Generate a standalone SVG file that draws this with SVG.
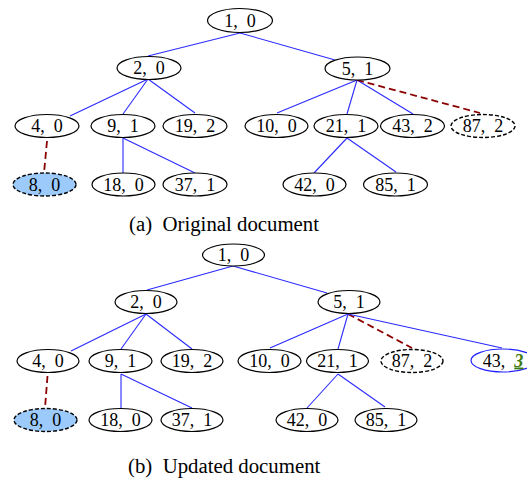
<svg xmlns="http://www.w3.org/2000/svg" width="527" height="483" viewBox="0 0 527 483">
<style>
.n ellipse{fill:#fff;stroke:#000;stroke-width:1.2}
.n text{font-family:"Liberation Serif","Times New Roman",serif;font-size:18px;text-anchor:middle;fill:#000}
.dn ellipse{stroke-dasharray:4,2;stroke-width:1.4}
.hl ellipse{fill:#9ccbfb}
.bl ellipse{stroke:#2222ff}
.e line{stroke:#2a2aff;stroke-width:1.1}
.e line.d{stroke:#8b0000;stroke-width:1.8;stroke-dasharray:7,4}
.cap{font-family:"Liberation Serif","Times New Roman",serif;font-size:20.8px;fill:#000}
.g{fill:#3f7a10;font-weight:bold;font-style:italic;text-decoration:underline}
</style>
<g id="connectors-a" class="e">
<line x1="240" y1="33" x2="148" y2="56"/>
<line x1="240" y1="33" x2="335" y2="60"/>
<line x1="148" y1="79" x2="70" y2="116"/>
<line x1="148" y1="79" x2="123" y2="114"/>
<line x1="148" y1="79" x2="195" y2="113"/>
<line class="d" x1="47" y1="141" x2="44" y2="173"/>
<line x1="123" y1="138" x2="123" y2="173"/>
<line x1="123" y1="138" x2="195" y2="173"/>
<line x1="357" y1="80" x2="277" y2="113"/>
<line x1="357" y1="80" x2="347" y2="114"/>
<line x1="357" y1="80" x2="413" y2="114"/>
<line class="d" x1="357" y1="80" x2="480" y2="113"/>
<line x1="347" y1="138" x2="314" y2="173"/>
<line x1="347" y1="138" x2="396" y2="172"/>
</g>
<g id="a-1-0" class="n"><ellipse cx="240" cy="20.5" rx="32.5" ry="12"/><text x="240" y="26.5">1,&#160;&#160;0</text></g>
<g id="a-2-0" class="n"><ellipse cx="149" cy="68" rx="32" ry="11.5"/><text x="149" y="74">2,&#160;&#160;0</text></g>
<g id="a-5-1" class="n"><ellipse cx="357.5" cy="68.5" rx="32.5" ry="11.5"/><text x="357.5" y="74.5">5,&#160;&#160;1</text></g>
<g id="a-4-0" class="n"><ellipse cx="47" cy="126" rx="32" ry="11.5"/><text x="47" y="132">4,&#160;&#160;0</text></g>
<g id="a-9-1" class="n"><ellipse cx="123" cy="126" rx="32" ry="11.5"/><text x="123" y="132">9,&#160;&#160;1</text></g>
<g id="a-19-2" class="n"><ellipse cx="195" cy="126" rx="32" ry="11.5"/><text x="195" y="132">19,&#160;&#160;2</text></g>
<g id="a-10-0" class="n"><ellipse cx="276.5" cy="126" rx="31.5" ry="11.5"/><text x="276.5" y="132">10,&#160;&#160;0</text></g>
<g id="a-21-1" class="n"><ellipse cx="346" cy="126" rx="32" ry="11.5"/><text x="346" y="132">21,&#160;&#160;1</text></g>
<g id="a-43-2" class="n"><ellipse cx="412.5" cy="126" rx="32" ry="11.5"/><text x="412.5" y="132">43,&#160;&#160;2</text></g>
<g id="a-87-2" class="n dn"><ellipse cx="483" cy="126" rx="32" ry="11.5"/><text x="483" y="132">87,&#160;&#160;2</text></g>
<g id="a-8-0" class="n dn hl"><ellipse cx="44.5" cy="184.5" rx="31.5" ry="11.5"/><text x="44.5" y="190.5">8,&#160;&#160;0</text></g>
<g id="a-18-0" class="n"><ellipse cx="123.5" cy="184.5" rx="31.5" ry="11.5"/><text x="123.5" y="190.5">18,&#160;&#160;0</text></g>
<g id="a-37-1" class="n"><ellipse cx="195" cy="184.5" rx="32" ry="11.5"/><text x="195" y="190.5">37,&#160;&#160;1</text></g>
<g id="a-42-0" class="n"><ellipse cx="314.5" cy="184.5" rx="31.5" ry="11.5"/><text x="314.5" y="190.5">42,&#160;&#160;0</text></g>
<g id="a-85-1" class="n"><ellipse cx="395.5" cy="184.5" rx="32" ry="11.5"/><text x="395.5" y="190.5">85,&#160;&#160;1</text></g>
<text class="cap" x="129" y="231">(a)&#160;&#160;Original document</text>

<g id="connectors-b" class="e">
<line x1="233" y1="266" x2="147" y2="290"/>
<line x1="233" y1="266" x2="327" y2="293"/>
<line x1="146" y1="314" x2="71" y2="351"/>
<line x1="146" y1="314" x2="121" y2="349"/>
<line x1="146" y1="314" x2="192" y2="349"/>
<line class="d" x1="47.5" y1="376" x2="45" y2="408"/>
<line x1="121" y1="374" x2="121" y2="408"/>
<line x1="121" y1="374" x2="192" y2="408"/>
<line x1="348" y1="314" x2="270" y2="348"/>
<line x1="348" y1="314" x2="338" y2="349"/>
<line class="d" x1="348" y1="314" x2="412" y2="348"/>
<line x1="348" y1="314" x2="502" y2="348"/>
<line x1="338" y1="374" x2="307" y2="408"/>
<line x1="338" y1="374" x2="385" y2="407"/>
</g>
<g id="b-1-0" class="n"><ellipse cx="233.5" cy="255" rx="31" ry="11"/><text x="233.5" y="261">1,&#160;&#160;0</text></g>
<g id="b-2-0" class="n"><ellipse cx="146" cy="302" rx="31" ry="11.5"/><text x="146" y="308">2,&#160;&#160;0</text></g>
<g id="b-5-1" class="n"><ellipse cx="349" cy="302" rx="31" ry="11.5"/><text x="349" y="308">5,&#160;&#160;1</text></g>
<g id="b-4-0" class="n"><ellipse cx="48" cy="361" rx="31" ry="11.5"/><text x="48" y="367">4,&#160;&#160;0</text></g>
<g id="b-9-1" class="n"><ellipse cx="120.5" cy="361" rx="31.5" ry="11.5"/><text x="120.5" y="367">9,&#160;&#160;1</text></g>
<g id="b-19-2" class="n"><ellipse cx="192" cy="361" rx="31" ry="11.5"/><text x="192" y="367">19,&#160;&#160;2</text></g>
<g id="b-10-0" class="n"><ellipse cx="269.5" cy="361" rx="31.5" ry="11.5"/><text x="269.5" y="367">10,&#160;&#160;0</text></g>
<g id="b-21-1" class="n"><ellipse cx="337.5" cy="361" rx="31" ry="11.5"/><text x="337.5" y="367">21,&#160;&#160;1</text></g>
<g id="b-87-2" class="n dn"><ellipse cx="412" cy="361" rx="31" ry="11.5"/><text x="412" y="367">87,&#160;&#160;2</text></g>
<g id="b-43-3" class="n bl"><ellipse cx="503" cy="360.5" rx="32" ry="11.5"/><text x="503" y="366.5">43,&#160;&#160;<tspan class="g">3</tspan></text></g>
<g id="b-8-0" class="n dn hl"><ellipse cx="45.5" cy="420" rx="31.5" ry="11.5"/><text x="45.5" y="426">8,&#160;&#160;0</text></g>
<g id="b-18-0" class="n"><ellipse cx="120.5" cy="420" rx="31.5" ry="11.5"/><text x="120.5" y="426">18,&#160;&#160;0</text></g>
<g id="b-37-1" class="n"><ellipse cx="192" cy="420" rx="31" ry="11.5"/><text x="192" y="426">37,&#160;&#160;1</text></g>
<g id="b-42-0" class="n"><ellipse cx="307" cy="420" rx="31" ry="11.5"/><text x="307" y="426">42,&#160;&#160;0</text></g>
<g id="b-85-1" class="n"><ellipse cx="386" cy="420" rx="31" ry="11.5"/><text x="386" y="426">85,&#160;&#160;1</text></g>
<text class="cap" x="128" y="473">(b)&#160;&#160;Updated document</text>
</svg>
